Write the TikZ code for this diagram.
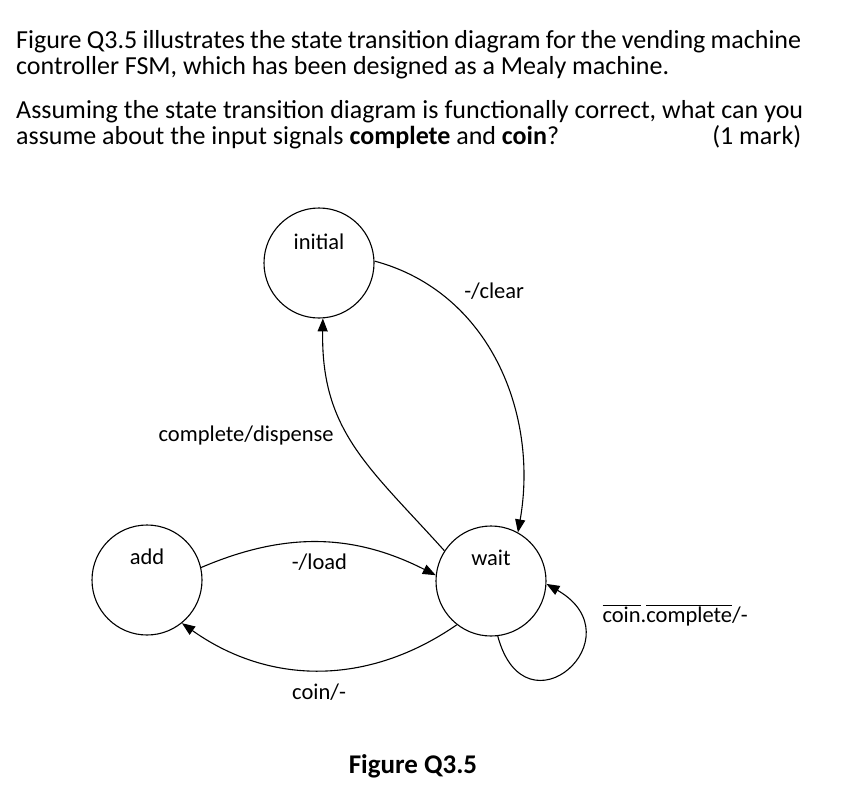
\documentclass[tikz,border=0pt]{standalone}
\usepackage{fontspec}
\setmainfont{Carlito}
\usetikzlibrary{arrows.meta}
\newcommand{\ovl}[1]{$\overline{\mbox{#1}}$}
\begin{document}
\begin{tikzpicture}[x=1pt,y=1pt,
  state/.style={draw, circle, line width=1.1pt, minimum size=110pt, inner sep=0pt},
  trans/.style={-{Triangle[length=13pt,width=10pt]}, line width=1.1pt},
  every label/.style={font=\fontsize{22.5}{27}\selectfont},
  lbl/.style={font=\fontsize{22.5}{27}\selectfont},
  hdr/.style={anchor=base west, inner sep=0pt, font=\fontsize{26}{31}\selectfont}]
\useasboundingbox (0,0) rectangle (849,-796);
% question text
\node[hdr] (L1) at (16,-48) {\makebox[785pt][s]{Figure Q3.5 illustrates the state transition diagram for the vending machine}};
\node[hdr] (L2) at (16,-74) {controller FSM, which has been designed as a Mealy machine.};
\node[hdr] (L3) at (16,-118) {\makebox[787pt][s]{Assuming the state transition diagram is functionally correct, what can you}};
\node[hdr] (L4) at (16,-144) {\makebox[785pt]{assume about the input signals \textbf{complete} and \textbf{coin}?\hfill(1 mark)}};
% states
\node[state, label={[yshift=21pt]center:initial}] (init) at (319,-263) {};
\node[state, label={[yshift=23pt]center:add}] (add) at (147,-580) {};
\node[state, label={[yshift=23pt]center:wait}] (wait) at (491,-581) {};
% transitions
\draw[trans] (init.2) to[out=-15, in=80] node[lbl, pos=0.3, above right, yshift=8pt] (clr) {-/clear} (wait.61);
\draw[trans] (wait.147) to[out=132, in=-91, looseness=1.1] node[lbl, pos=0.55, left=11pt] (dsp) {complete/dispense} (init.-86);
\draw[trans] (add.13) to[bend left=25] node[lbl, below=8pt] (ld) {-/load} (wait.174);
\draw[trans] (wait.-128) to[bend left=35] node[lbl, below=10pt] (cn) {coin/-} (add.-51);
\draw[trans] (wait.-83) to[out=-75, in=-30, looseness=3.8] (wait.-3);
\node[lbl, anchor=base west] (stay) at (599,-622) {\ovl{coin}.\ovl{complete}/-};
% caption
\node[anchor=base, font=\bfseries\fontsize{27}{32}\selectfont] (cap) at (413,-773) {Figure Q3.5};
\end{tikzpicture}
\end{document}
